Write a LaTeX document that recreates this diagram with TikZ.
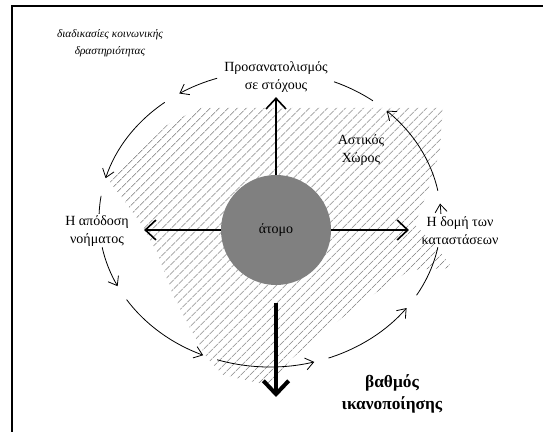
\documentclass[tikz,border=0pt]{standalone}
\usepackage{fontspec}
\setmainfont{Liberation Serif}
\usetikzlibrary{arrows.meta,patterns.meta}

\begin{document}
\begin{tikzpicture}[x=0.75pt,y=0.75pt,
  lbl/.style={align=center,font=\fontsize{10.5}{13.5}\selectfont},
  cyc/.style={line width=0.6pt},
  cycarrow/.style={cyc,-{Straight Barb[length=6pt,width=9pt]}},
  ray/.style={line width=1.2pt,-{Straight Barb[length=8pt,width=15pt]}}]
\useasboundingbox (0,0) rectangle (543,432);
\draw[line width=1.5pt] (12,0) -- (12,426) -- (543,426);
% hatched area (urban space)
\fill[pattern={Lines[angle=45,distance=5.4pt,line width=0.55pt]},pattern color=black!55]
  (200,324) -- (443,324) -- (440,282) -- (430,247) -- (415,207) -- (435,187)
  -- (452,164) -- (410,162) -- (365,132) -- (320,97) -- (290,72) -- (272,46)
  -- (223,57) -- (207,74) -- (190,104) -- (173,137) -- (157,180) -- (140,210)
  -- (110,250) -- (123,264) -- (167,307) -- cycle;
% individual in the middle
\node[circle,fill=gray,minimum size=82.5pt,inner sep=0pt,lbl] (atomo) at (276,202) {άτομο};
\node[lbl] (goals) at (276,355) {Προσανατολισμός\\σε στόχους};
\node[lbl] (urban) at (361,282) {Αστικός\\Χώρος};
\node[lbl] (meaning) at (97,201) {Η απόδοση\\νοήματος};
\node[lbl] (struct) at (460,201) {Η δομή των\\καταστάσεων};
\node[align=center,font=\fontsize{13}{16}\selectfont\bfseries] (satis) at (392,38) {βαθμός\\ικανοποίησης};
\node[align=center,font=\fontsize{8.5}{12.5}\selectfont\itshape] (proc) at (110,389) {διαδικασίες κοινωνικής\\δραστηριότητας};
\coordinate (tip) at (276,35);
% rays
\draw[ray] (atomo) -- (goals);
\draw[ray,shorten >=8pt] (atomo.west) -- (meaning.east |- atomo.west);
\draw[ray,shorten >=6pt] (atomo.east) -- (struct.west |- atomo.east);
\draw[line width=3pt,-{Straight Barb[length=10pt,width=19pt]},shorten <=13.5pt] (atomo.south) -- (tip);
% cycle of activity
\coordinate (c) at (270,213);
\foreach \a/\b in {108/122,128/164,191/207,213/247,252/285,290/323,2/6,11/47}
  \draw[cycarrow] ([shift={(\a:171 and 148)}]c) arc[start angle=\a,end angle=\b,x radius=171,y radius=148];
\foreach \a/\b in {171/178,329/349,53/68}
  \draw[cyc] ([shift={(\a:171 and 148)}]c) arc[start angle=\a,end angle=\b,x radius=171,y radius=148];
\end{tikzpicture}
\end{document}
